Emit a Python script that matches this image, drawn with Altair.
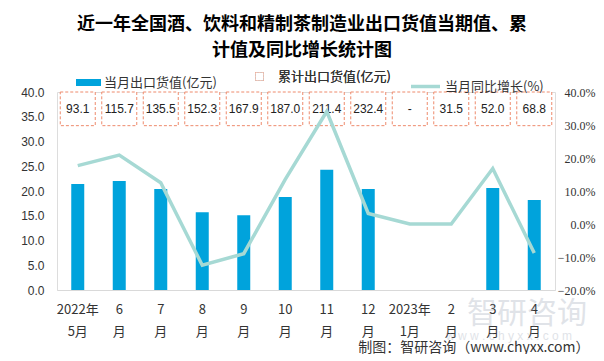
import altair as alt
import pandas as pd

months = ["2022年|5月", "6|月", "7|月", "8|月", "9|月", "10|月", "11|月", "12|月",
          "2023年|1月", "2|月", "3|月", "4|月"]
monthly = [21.4, 22.0, 20.4, 15.7, 15.1, 18.8, 24.3, 20.4, None, None, 20.6, 18.2]
cumulative = ["93.1", "115.7", "135.5", "152.3", "167.9", "187.0", "211.4", "232.4",
              "-", "31.5", "52.0", "68.8"]
growth = [17.7, 20.9, 12.5, -12.5, -9.0, 13.5, 34.1, 3.2, 0.0, 0.0, 16.8, -8.8]

S1 = "当月出口货值(亿元)"
S2 = "累计出口货值(亿元)"
S3 = "当月同比增长(%)"

df = pd.DataFrame({"month": months, "monthly": monthly, "cum": cumulative,
                   "growth": growth, "s1": S1, "s2": S2, "s3": S3})

FONT = "Noto Sans CJK SC"
NUMFONT = "Liberation Sans"
NARROW = "Liberation Sans Narrow"
BLUE = "#00a3dc"
SALMON = "#ee8a6c"
TEAL = "#a6d9d4"

x = alt.X("month:N", sort=months,
          scale=alt.Scale(paddingInner=0, paddingOuter=0),
          axis=alt.Axis(labelExpr="split(datum.value, '|')", labelAngle=0,
                        labelLineHeight=22, labelPadding=13, labelFontSize=13,
                        labelFont=FONT, labelColor="#333333", ticks=False,
                        domainColor="#d9d9d9", grid=False,
                        title="制图：智研咨询（www.chyxx.com）", titleFont=FONT,
                        titleFontSize=14, titleFontWeight="normal",
                        titleColor="#333333", titleAnchor="end", titleAlign="right",
                        titleX=532, titleY=57, titleBaseline="middle"))

yleft_scale = alt.Scale(domain=[0, 40])


def yleft_axis():
    return alt.Axis(values=[0, 5, 10, 15, 20, 25, 30, 35, 40], format=".1f",
                    orient="left", domain=False, ticks=False, grid=False,
                    labelOverlap=False, labelPadding=13, labelFontSize=12,
                    labelFont=NUMFONT, labelColor="#333333", title=None)


bars = alt.Chart(df).mark_bar(width=13).encode(
    x=x,
    y=alt.Y("monthly:Q", scale=yleft_scale, axis=yleft_axis()),
    fill=alt.Fill("s1:N", scale=alt.Scale(domain=[S1], range=[BLUE]),
                  legend=alt.Legend(orient="none", legendX=19, legendY=-22,
                                    title=None, symbolType="M-1,-0.28H1V0.28H-1Z",
                                    symbolSize=625, symbolStrokeWidth=0,
                                    labelFont=FONT, labelFontSize=13,
                                    labelColor="#333333", labelOffset=3)),
)

box_legend = alt.Legend(orient="none", legendX=196, legendY=-22, title=None,
                        symbolType="square", symbolSize=64, symbolStrokeWidth=1,
                        symbolDash=[2, 1], labelFont=FONT, labelFontSize=13,
                        labelColor="#333333", labelOffset=12)

boxes = alt.Chart(df).mark_bar(width=35, strokeDash=[3, 2], strokeWidth=1).encode(
    x=x,
    y=alt.Y(datum=40, type="quantitative", scale=yleft_scale, axis=yleft_axis()),
    y2=alt.Y2(datum=33.2),
    fill=alt.Fill("s2:N", scale=alt.Scale(domain=[S2], range=["white"]), legend=box_legend),
    stroke=alt.Stroke("s2:N", scale=alt.Scale(domain=[S2], range=[SALMON]), legend=box_legend),
)

texts = alt.Chart(df).mark_text(font=NUMFONT, fontSize=12, color="#222222").encode(
    x=x,
    y=alt.Y(datum=36.5, type="quantitative", scale=yleft_scale, axis=yleft_axis()),
    text="cum:N",
)

line = alt.Chart(df).mark_line(strokeWidth=3.5).encode(
    x=x,
    y=alt.Y("growth:Q", scale=alt.Scale(domain=[-20, 40]),
            axis=alt.Axis(values=[-20, -10, 0, 10, 20, 30, 40], orient="right",
                          labelExpr="format(datum.value, '.1f') + '%'",
                          domain=False, ticks=False, grid=False,
                          labelAlign="right", labelPadding=40,
                          labelOverlap=False, labelFontSize=12, labelFont=NARROW,
                          labelColor="#333333", title=None)),
    stroke=alt.Stroke("s3:N", scale=alt.Scale(domain=[S3], range=[TEAL]),
                      legend=alt.Legend(orient="none", legendX=352, legendY=-22,
                                        title=None, symbolType="stroke",
                                        symbolSize=841, symbolStrokeWidth=3.5,
                                        labelFont=FONT, labelFontSize=13,
                                        labelColor="#333333", labelOffset=3)),
)

wm = pd.DataFrame({"t": ["智研咨询"], "u": ["w w w . c h y x x . c o m"]})
wm1 = alt.Chart(wm).mark_text(font=FONT, fontSize=30, color="#9aa4b4", opacity=0.3).encode(
    x=alt.value(470), y=alt.value(222), text="t:N")
wm2 = alt.Chart(wm).mark_text(font=NUMFONT, fontSize=12, color="#9aa4b4", opacity=0.3).encode(
    x=alt.value(452), y=alt.value(244), text="u:N")

left = alt.layer(bars, boxes, texts).resolve_scale(fill="independent")

chart = alt.layer(left, line, wm1, wm2).resolve_scale(
    y="independent", fill="independent", stroke="independent"
).properties(
    width=498, height=198,
    padding={"left": 49, "top": 84, "right": 41, "bottom": 64},
    autosize=alt.AutoSizeParams(type="none"),
    title=alt.TitleParams(
        ["近一年全国酒、饮料和精制茶制造业出口货值当期值、累", "计值及同比增长统计图"],
        font=FONT, fontSize=18, fontWeight="bold", color="#000000",
        anchor="middle", frame="group", offset=10, lineHeight=26, dx=-4),
).configure_view(stroke=None).configure(background="white")

chart.save("out.html", embed_options={"renderer": "svg", "actions": False})
